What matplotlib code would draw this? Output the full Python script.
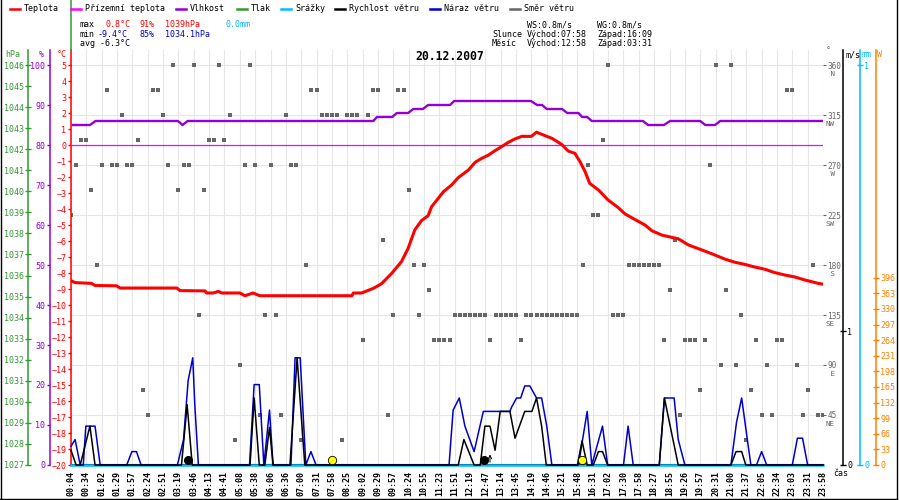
import matplotlib.pyplot as plt
from matplotlib.lines import Line2D

plt.rcParams['font.family'] = ['DejaVu Sans Mono', 'DejaVu Sans']
plt.rcParams['font.size'] = 6

#%% Data (x = sample index, 148 samples, tick every 3rd)
times = ["00:04", "00:34", "01:02", "01:29", "01:57", "02:24", "02:51", "03:19", "03:46", "04:13",
         "04:41", "05:08", "05:38", "06:06", "06:36", "07:00", "07:31", "07:58", "08:25", "09:02",
         "09:29", "09:57", "10:24", "10:55", "11:23", "11:51", "12:19", "12:47", "13:14", "13:45",
         "14:19", "14:46", "15:21", "15:48", "16:31", "17:02", "17:30", "17:58", "18:27", "18:55",
         "19:26", "19:57", "20:31", "21:00", "21:37", "22:05", "22:34", "23:03", "23:31", "23:58"]

temp_idx = [0, 0.8, 4.0, 4.7, 8.9, 9.6, 20.7, 21.3, 26.2, 26.5, 27.8, 28.8, 29.5, 33.0, 34.0, 35.6,
            36.9, 54.9, 55.2, 56.8, 59.1, 60.7, 62.7, 64.6, 65.9, 67.2, 68.5, 69.8, 70.5, 71.8, 72.8,
            74.4, 75.7, 77.7, 79.0, 80.3, 81.6, 82.9, 84.2, 85.5, 86.8, 88.1, 90.0, 91.0, 92.7, 94.0,
            95.9, 97.2, 98.5, 99.5, 100.5, 101.4, 103.1, 105.0, 107.0, 108.3, 110.2, 112.2, 113.5,
            115.5, 117.4, 118.7, 120.7, 123.9, 125.9, 127.8, 129.8, 131.7, 133.7, 135.7, 137.6,
            139.6, 141.5, 143.5, 146.1, 147]
temp_val = [-8.48, -8.6, -8.65, -8.78, -8.8, -8.94, -8.94, -9.1, -9.12, -9.25, -9.25, -9.15, -9.25,
            -9.25, -9.42, -9.25, -9.42, -9.42, -9.25, -9.25, -8.96, -8.67, -8.02, -7.29, -6.46,
            -5.31, -4.73, -4.42, -3.85, -3.33, -2.92, -2.5, -2.04, -1.56, -1.08, -0.83, -0.63,
            -0.35, -0.1, 0.17, 0.38, 0.54, 0.54, 0.8, 0.58, 0.42, 0.04, -0.38, -0.52, -1.04, -1.67,
            -2.4, -2.81, -3.44, -3.92, -4.31, -4.65, -5.0, -5.35, -5.63, -5.77, -5.86, -6.25,
            -6.63, -6.88, -7.13, -7.33, -7.46, -7.63, -7.77, -7.98, -8.13, -8.25, -8.44, -8.65, -8.7]

ground_temp = [0.0, 0.0]          # Prizemni teplota, flat all day
ground_idx = [0, 147]

hum_idx = [0, 3.7, 4.8, 20.9, 21.8, 22.8, 59.1, 59.8, 62.8, 63.7, 65.9, 66.9, 68.8, 69.8, 74.1, 74.9,
           89.9, 91.1, 92.1, 93.0, 96.0, 97.0, 99.2, 99.9, 100.9, 101.8, 111.8, 112.8, 115.9,
           117.1, 123.0, 124.0, 125.9, 126.9, 147]
hum_val = [85, 85, 86, 86, 85, 86, 86, 87, 87, 88, 88, 89, 89, 90, 90, 91,
           91, 90, 90, 89, 89, 88, 88, 87, 87, 86, 86, 85, 85,
           86, 86, 85, 85, 86, 86]

pres_hpa = [1039.0, 1044.0]       # visible piece of the pressure trace
pres_top = [1046.71, 1049.1]      # the part that runs above the plot

precip_idx = [0, 147]
precip_mm = [0.0, 0.0]

speed_idx = [0, 1.0, 1.8, 3.7, 4.7, 21.6, 22.7, 23.7, 35.0, 35.8, 36.8, 37.9, 38.8, 39.5, 42.8, 44.2,
             45.7, 75.7, 76.8, 78.8, 80.0, 80.9, 81.9, 82.9, 83.9, 85.8, 86.8, 88.7, 90.1, 91.0,
             92.0, 92.9, 99.0, 99.9, 100.9, 102.1, 103.1, 103.9, 104.9, 115.0, 116.0, 117.4,
             118.7, 129.0, 130.0, 131.1, 131.9, 147]
speed_val = [0.11, 0, 0, 0.29, 0, 0, 0.45, 0, 0, 0.5, 0, 0, 0.28, 0, 0, 0.8,
             0, 0, 0.19, 0, 0, 0.29, 0.29, 0.11, 0.4, 0.4, 0.2, 0.4, 0.4, 0.5,
             0.29, 0, 0, 0.18, 0, 0, 0.1, 0.1, 0, 0, 0.5, 0.24,
             0, 0, 0.1, 0.1, 0, 0]

gust_idx = [0, 0.8, 1.8, 2.4, 2.9, 4.7, 5.7, 10.9, 11.9, 12.8, 13.7, 20.8, 22.0, 22.9, 23.8, 24.2,
            24.9, 34.9, 35.8, 36.8, 37.7, 38.8, 39.5, 43.0, 43.8, 44.8, 45.9, 46.9, 47.9, 73.9,
            74.7, 75.9, 77.0, 78.8, 80.6, 85.8, 86.1, 87.1, 87.9, 88.7, 89.7, 91.0, 92.0, 93.0,
            94.0, 99.2, 100.9, 101.8, 103.9, 104.9, 108.0, 108.9, 109.9, 115.0, 116.0, 117.9,
            118.7, 120.0, 129.0, 130.1, 131.1, 132.1, 132.9, 134.0, 135.0, 136.0, 141.0, 142.0,
            143.0, 144.0, 147]
gust_val = [0.14, 0.19, 0, 0, 0.29, 0.29, 0, 0, 0.1, 0.1, 0, 0, 0.19, 0.63, 0.8, 0.45,
            0, 0, 0.6, 0.6, 0, 0.41, 0, 0, 0.8, 0.8, 0, 0.1, 0, 0,
            0.41, 0.5, 0.29, 0.1, 0.4, 0.4, 0.43, 0.5, 0.5, 0.59, 0.59, 0.5, 0.5, 0.29,
            0, 0, 0.4, 0, 0.29, 0, 0, 0.29, 0, 0, 0.5, 0.5,
            0.19, 0, 0, 0.32, 0.5, 0.22, 0, 0, 0.1, 0, 0, 0.2,
            0.2, 0, 0]

# wind direction per sample, grouped by compass point
dir_N = [20, 24, 29, 35, 105, 126, 129]
dir_NNW = [7, 16, 17, 47, 48, 59, 60, 64, 65, 140, 141]
dir_NW = [10, 18, 31, 42, 49, 50, 51, 52, 54, 55, 56, 58]
dir_WNW = [2, 3, 13, 27, 28, 30, 104]
dir_W = [1, 6, 8, 9, 11, 12, 19, 22, 23, 34, 36, 39, 43, 44, 101, 125]
dir_WSW = [4, 21, 26, 66]
dir_SW = [0, 102, 103]
dir_SSW = [61, 118]
dir_S = [5, 46, 67, 69, 100, 109, 110, 111, 112, 113, 114, 115, 145]
dir_SSE = [70, 117, 128]
dir_SE = [25, 38, 40, 63, 68, 75, 76, 77, 78, 79, 80, 81, 83, 84, 85, 86, 87, 89, 90, 91, 92, 93,
          94, 95, 96, 97, 98, 99, 106, 107, 108, 131]
dir_ESE = [57, 71, 72, 73, 74, 82, 88, 116, 120, 121, 122, 124, 134, 138, 139]
dir_E = [33, 127, 130, 136, 142]
dir_ENE = [14, 123, 133, 144]
dir_NE = [15, 37, 41, 62, 119, 135, 137, 143, 146, 147]
dir_NNE = [32, 45, 53, 132]

dir_ticks = [45, 90, 135, 180, 225, 270, 315, 360]
dir_names = ['NE', ' E', 'SE', ' S', 'SW', ' W', 'NW', ' N']

sun_idx = [51, 99.9]      # sunrise / sunset
moon_idx = [22.9, 80.7]   # moonset / moonrise

t_max, t_min, t_avg = '0.8', '-9.4', '-6.3'
h_max, h_min = '91', '85'
p_max, p_min = '1039', '1034.1'
rain_sum = '0.0'
ws, wg = '0.8', '0.8'
sun_rise, sun_set = '07:58', '16:09'
moon_rise, moon_set = '12:58', '03:31'

#%% Colours
RED = '#ff0000'
MAG = '#ff00ff'
PUR = '#9400d3'
GRN = '#339933'
CYA = '#00bbff'
BLU = '#0000cc'
ORA = '#ff8000'
GRY = '#666666'

#%% Axes
fig = plt.figure(figsize=(9, 5), dpi=100)
L, R, T, B = 71, 823, 50, 465
ax = fig.add_axes([L / 900, 1 - B / 500, (R - L) / 900, (B - T) / 500])
ax_h = ax.twinx()
ax_t = ax.twinx()
ax_p = ax.twinx()
ax_mm = ax.twinx()
ax_W = ax.twinx()
ax_w = ax.twinx()

for a in (ax, ax_h, ax_t, ax_p, ax_mm, ax_W, ax_w):
    for sp in a.spines.values():
        sp.set_visible(False)
    a.set_xlim(0, 147)


def side_axis(a, side, pos, color, lim, ticks, direction='out', length=2.5):
    a.set_ylim(*lim)
    if side == 'left':
        a.yaxis.tick_left()
    else:
        a.yaxis.tick_right()
    sp = a.spines[side]
    sp.set_visible(True)
    sp.set_position(('axes', pos))
    sp.set_color(color)
    sp.set_linewidth(1.1)
    a.set_yticks(ticks)
    a.tick_params(axis='y', colors=color, direction=direction, length=length,
                  width=1, pad=1, labelsize=6)


side_axis(ax_t, 'left', 0.0, RED, (-20, 5.9375), range(-20, 6))
side_axis(ax_h, 'left', -21 / 752, PUR, (0, 103.75), range(0, 101, 10))
side_axis(ax_p, 'left', -43 / 752, GRN, (1027, 1046.7125), range(1027, 1047), 'inout', 4)
side_axis(ax_w, 'right', 1 + 20 / 752, 'black', (0, 415 / 134), [0, 1], 'inout', 4)
side_axis(ax_mm, 'right', 1 + 37 / 752, CYA, (0, 1.0375), [0, 1], 'inout', 4)
side_axis(ax_W, 'right', 1 + 53 / 752, ORA, (0, 415 / 0.473), range(0, 397, 33), 'inout', 4)

# base axes: grid, time axis, wind direction scale
ax.set_ylim(0, 373.5)
ax.set_xticks(range(0, 148, 3))
ax.set_xticklabels(times, rotation=90, fontweight='bold')
ax.tick_params(axis='x', length=0, pad=4, labelsize=6)
ax.yaxis.tick_right()
ax.set_yticks(dir_ticks)
ax.tick_params(axis='y', colors=GRY, length=2, pad=1, labelsize=5.6)
ax.grid(True, color='#e6e6e6', lw=0.8)
ax.set_axisbelow(True)
ax.spines['bottom'].set_visible(True)
ax.spines['bottom'].set_linewidth(1.5)
for d, name in zip(dir_ticks, dir_names):
    ax.annotate(name, xy=(1, d), xycoords=ax.get_yaxis_transform(), xytext=(3, -9),
                textcoords='offset pixels', ha='left', va='center', color=GRY,
                fontsize=5.4, annotation_clip=False)

#%% Series
dir_groups = [(360, dir_N), (337.5, dir_NNW), (315, dir_NW), (292.5, dir_WNW), (270, dir_W),
              (247.5, dir_WSW), (225, dir_SW), (202.5, dir_SSW), (180, dir_S), (157.5, dir_SSE),
              (135, dir_SE), (112.5, dir_ESE), (90, dir_E), (67.5, dir_ENE), (45, dir_NE),
              (22.5, dir_NNE)]
for deg, idx in dir_groups:
    ax.plot(idx, [deg] * len(idx), 's', color=GRY, ms=3, mew=0, zorder=3)

ax_h.plot(hum_idx, hum_val, color=PUR, lw=1.7)
ax_t.plot(ground_idx, ground_temp, color=MAG, lw=0.9)
ax_t.plot(temp_idx, temp_val, color=RED, lw=2.2)
ax_p.plot([0, 0], pres_hpa, color=GRN, lw=1.1)
ax_p.plot([0, 0], pres_top, color=GRN, lw=1.1, clip_on=False)
ax_mm.plot(precip_idx, precip_mm, color=CYA, lw=1.8, clip_on=False)
ax_w.plot(gust_idx, gust_val, color=BLU, lw=1.1, clip_on=False)
ax_w.plot(speed_idx, speed_val, color='black', lw=1.1, clip_on=False)
ax_w.plot(sun_idx, [0.037] * len(sun_idx), 'o', mfc='#ffff00', mec='black', ms=6, mew=0.6)
ax_w.plot(moon_idx, [0.037] * len(moon_idx), 'o', color='black', ms=5.5)
ax_w.annotate('', xy=(moon_idx[1] + 1.2, 0.1), xytext=(moon_idx[1] + 1.2, 0.0),
              arrowprops=dict(arrowstyle='->', lw=0.7, color='black'))

#%% Texts in pixel positions


def ftext(x, y, s, color='black', **kw):
    fig.text(x / 900, 1 - y / 500, s, color=color, ha='left', va='center', **kw)


legend = [(10, 'Teplota', RED), (71, 'Přízemní teplota', MAG), (176, 'Vlhkost', PUR),
          (237, 'Tlak', GRN), (281, 'Srážky', CYA), (335, 'Rychlost větru', 'black'),
          (430, 'Náraz větru', BLU), (510, 'Směr větru', GRY)]
for x0, label, col in legend:
    fig.add_artist(Line2D([x0 / 900, (x0 + 10) / 900], [1 - 9 / 500] * 2, color=col, lw=1.8))
    ftext(x0 + 14, 8.5, label)

ftext(80, 24.5, 'max')
ftext(105, 24.5, t_max + '°C', RED)
ftext(140, 24.5, h_max + '%', RED)
ftext(165, 24.5, p_max + 'hPa', RED)
ftext(226, 24.5, rain_sum + 'mm', CYA)
ftext(80, 34, 'min')
ftext(98, 34, t_min + '°C', BLU)
ftext(140, 34, h_min + '%', BLU)
ftext(165, 34, p_min + 'hPa', BLU)
ftext(80, 43.5, 'avg ' + t_avg + '°C')

ftext(527, 24.5, 'WS:' + ws + 'm/s')
ftext(597, 24.5, 'WG:' + wg + 'm/s')
ftext(492, 34, 'Slunce')
ftext(527, 34, 'Východ:' + sun_rise)
ftext(597, 34, 'Západ:' + sun_set)
ftext(492, 43.5, 'Měsíc')
ftext(527, 43.5, 'Východ:' + moon_rise)
ftext(597, 43.5, 'Západ:' + moon_set)

fig.text(449.5 / 900, 1 - 57 / 500, '20.12.2007', ha='center', va='center',
         fontsize=8.3, fontweight='bold')

ftext(5, 54.5, 'hPa', GRN)
ftext(39, 54.5, '%', PUR)
ftext(57, 54.5, '°C', RED)
ftext(826, 51, '°', GRY)
ftext(845, 54.5, 'm/s')
ftext(862, 54.5, 'mm', CYA)
ftext(877, 54.5, 'W', ORA)
ftext(833, 473.5, 'čas')

# frame
for xs, ys in [([0.6, 0.6], [0, 500]), ([897, 897], [0, 500]), ([0, 897], [498.5, 498.5])]:
    fig.add_artist(Line2D([v / 900 for v in xs], [1 - v / 500 for v in ys], color='black', lw=1))

fig.savefig('out.png', dpi=100, facecolor='white')
